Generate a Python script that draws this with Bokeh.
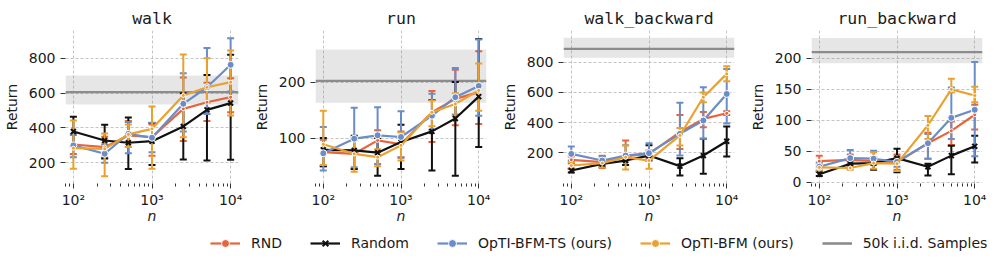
from bokeh.plotting import figure
from bokeh.layouts import row, column
from bokeh.models import (ColumnDataSource, Whisker, TeeHead, BoxAnnotation, Span,
                          Range1d, FixedTicker, Legend, LegendItem)
from bokeh.embed import file_html
from bokeh.resources import INLINE

# ---------------- data ----------------
n_values = [100, 250, 500, 1000, 2500, 5000, 10000]
x_major_ticks = [100, 1000, 10000]
x_tick_labels = {100: "10²", 1000: "10³", 10000: "10⁴"}
x_minor_ticks = [m * 10 ** e for e in (1, 2, 3, 4) for m in range(2, 10)]

tasks = ["walk", "run", "walk_backward", "run_backward"]
series_names = ["RND", "Random", "OpTI-BFM-TS (ours)", "OpTI-BFM (ours)"]
baseline_name = "50k i.i.d. Samples"

# walk
walk_rnd_mean = [305, 290, 357, 347, 510, 548, 577]
walk_rnd_lo = [250, 230, 290, 240, 325, 440, 490]
walk_rnd_hi = [360, 350, 440, 420, 690, 660, 685]
walk_random_mean = [380, 328, 315, 324, 409, 504, 543]
walk_random_lo = [290, 225, 165, 188, 219, 213, 217]
walk_random_hi = [465, 418, 460, 428, 600, 705, 820]
walk_ts_mean = [300, 252, 366, 344, 539, 634, 763]
walk_ts_lo = [232, 200, 255, 260, 380, 480, 610]
walk_ts_hi = [365, 305, 435, 430, 715, 860, 916]
walk_bfm_mean = [284, 280, 363, 395, 587, 634, 663]
walk_bfm_lo = [166, 123, 290, 166, 347, 545, 472]
walk_bfm_hi = [443, 368, 420, 523, 822, 801, 845]
walk_iid = [606, 535, 701]  # mean, lo, hi

# run
run_rnd_mean = [75, 72, 96, 89, 146, 170, 182]
run_rnd_lo = [50, 45, 75, 65, 93, 123, 125]
run_rnd_hi = [97, 97, 114, 112, 184, 222, 255]
run_random_mean = [79, 78, 74, 93, 112, 135, 174]
run_random_lo = [50, 45, 33, 45, 42, 33, 84]
run_random_hi = [100, 104, 100, 124, 168, 200, 277]
run_ts_mean = [73, 99, 105, 102, 140, 173, 193]
run_ts_lo = [42, 48, 54, 66, 115, 142, 140]
run_ts_hi = [120, 154, 155, 148, 179, 225, 276]
run_bfm_mean = [89, 72, 66, 87, 146, 161, 185]
run_bfm_lo = [52, 40, 50, 60, 121, 140, 149]
run_bfm_hi = [149, 100, 80, 110, 167, 180, 233]
run_iid = [202, 163, 258]

# walk_backward
wb_rnd_mean = [154, 138, 178, 193, 337, 425, 462]
wb_rnd_lo = [130, 100, 150, 165, 226, 370, 450]
wb_rnd_hi = [175, 180, 282, 215, 451, 470, 475]
wb_random_mean = [83, 127, 149, 182, 112, 182, 277]
wb_random_lo = [70, 110, 120, 150, 50, 61, 176]
wb_random_hi = [95, 145, 180, 250, 165, 293, 374]
wb_ts_mean = [193, 149, 182, 198, 326, 414, 590]
wb_ts_lo = [150, 120, 155, 170, 182, 293, 395]
wb_ts_hi = [242, 175, 250, 264, 531, 634, 755]
wb_bfm_mean = [116, 132, 171, 149, 315, 568, 723]
wb_bfm_lo = [95, 105, 90, 94, 249, 535, 674]
wb_bfm_hi = [140, 160, 249, 200, 365, 600, 773]
wb_iid = [888, 830, 962]

# run_backward
rb_rnd_mean = [34, 36, 34, 32, 63, 83, 109]
rb_rnd_lo = [25, 30, 28, 20, 38, 60, 85]
rb_rnd_hi = [43, 45, 40, 45, 80, 98, 125]
rb_random_mean = [13, 30, 31, 39, 25, 43, 58]
rb_random_lo = [10, 25, 20, 16, 11, 13, 32]
rb_random_hi = [17, 35, 40, 54, 30, 59, 75]
rb_ts_mean = [25, 39, 38, 33, 63, 104, 117]
rb_ts_lo = [18, 28, 30, 25, 38, 70, 42]
rb_ts_hi = [32, 52, 51, 40, 78, 153, 194]
rb_bfm_mean = [24, 23, 31, 30, 92, 150, 140]
rb_bfm_lo = [20, 20, 22, 18, 70, 145, 129]
rb_bfm_hi = [29, 26, 48, 42, 107, 167, 154]
rb_iid = [210, 192, 233]

y_ticks = {
    "walk": [200, 400, 600, 800],
    "run": [100, 200],
    "walk_backward": [200, 400, 600, 800],
    "run_backward": [0, 50, 100, 150, 200],
}

task_data = {
    "walk": ([(walk_rnd_mean, walk_rnd_lo, walk_rnd_hi),
              (walk_random_mean, walk_random_lo, walk_random_hi),
              (walk_ts_mean, walk_ts_lo, walk_ts_hi),
              (walk_bfm_mean, walk_bfm_lo, walk_bfm_hi)], walk_iid),
    "run": ([(run_rnd_mean, run_rnd_lo, run_rnd_hi),
             (run_random_mean, run_random_lo, run_random_hi),
             (run_ts_mean, run_ts_lo, run_ts_hi),
             (run_bfm_mean, run_bfm_lo, run_bfm_hi)], run_iid),
    "walk_backward": ([(wb_rnd_mean, wb_rnd_lo, wb_rnd_hi),
                       (wb_random_mean, wb_random_lo, wb_random_hi),
                       (wb_ts_mean, wb_ts_lo, wb_ts_hi),
                       (wb_bfm_mean, wb_bfm_lo, wb_bfm_hi)], wb_iid),
    "run_backward": ([(rb_rnd_mean, rb_rnd_lo, rb_rnd_hi),
                      (rb_random_mean, rb_random_lo, rb_random_hi),
                      (rb_ts_mean, rb_ts_lo, rb_ts_hi),
                      (rb_bfm_mean, rb_bfm_lo, rb_bfm_hi)], rb_iid),
}

# ---------------- style ----------------
colors = ["#E8643C", "#111111", "#6A8DC8", "#E9A12F"]
markers = ["circle", "x", "circle", "circle"]
marker_sizes = [4, 7, 7, 4]
iid_color = "#8C8C8C"
FONT = "DejaVu Sans"
MONO = "DejaVu Sans Mono"
TEXT = "#1a1a1a"

y_ranges = {
    "walk": (81, 960),
    "run": (19, 292),
    "walk_backward": (-3, 1010),
    "run_backward": (-2, 245),
}
# (fig width, left border, right border) -> frame width 173 each
geom = [(250, 65, 12), (248, 63, 12), (248, 63, 12), (250, 63, 14)]
TOP = 30
FRAME_H = 153
BOTTOM = 48
FIG_H = TOP + FRAME_H + BOTTOM


def make_panel(task, w, bl, br):
    p = figure(width=w, height=FIG_H, x_axis_type="log",
               x_range=Range1d(79.4, 12589),
               y_range=Range1d(*y_ranges[task]),
               output_backend="svg", toolbar_location=None,
               min_border_left=bl, min_border_right=br,
               min_border_top=TOP, min_border_bottom=BOTTOM)
    p.outline_line_color = None
    p.background_fill_color = "white"
    p.title.text = task
    p.title.text_font = MONO
    p.title.text_font_size = "16.5px"
    p.title.text_font_style = "normal"
    p.title.align = "center"
    p.title.text_color = TEXT
    p.title.standoff = 5

    p.xaxis.ticker = FixedTicker(ticks=x_major_ticks, minor_ticks=x_minor_ticks)
    p.xaxis.major_label_overrides = x_tick_labels
    p.yaxis.ticker = FixedTicker(ticks=y_ticks[task])
    for ax in (p.xaxis, p.yaxis):
        ax.axis_line_color = None
        ax.major_tick_line_color = "#333333"
        ax.minor_tick_line_color = "#333333"
        ax.major_tick_out = 5
        ax.major_tick_in = 0
        ax.minor_tick_out = 3
        ax.minor_tick_in = 0
        ax.major_label_text_font = FONT
        ax.major_label_text_font_size = "14px"
        ax.major_label_text_color = TEXT
        ax.axis_label_text_font = FONT
        ax.axis_label_text_font_size = "14px"
        ax.axis_label_text_color = TEXT
    p.yaxis.minor_tick_line_color = None
    p.xaxis.major_label_standoff = 3
    p.yaxis.major_label_standoff = 5
    p.xaxis.axis_label = "n"
    p.xaxis.axis_label_text_font_style = "italic"
    p.xaxis.axis_label_standoff = -3
    p.yaxis.axis_label = "Return"
    p.yaxis.axis_label_text_font_style = "normal"
    p.yaxis.axis_label_standoff = 6
    for g in (p.xgrid, p.ygrid):
        g.grid_line_color = "#b5b5b5"
        g.grid_line_dash = "3 2"
        g.grid_line_width = 0.8

    series, iid = task_data[task]
    iid_mean, iid_lo, iid_hi = iid
    p.add_layout(BoxAnnotation(bottom=iid_lo, top=iid_hi, fill_color="#808080",
                               fill_alpha=0.2, line_color=None, level="underlay"))
    p.add_layout(Span(location=iid_mean, dimension="width", line_color=iid_color,
                      line_width=2.2, level="underlay"))

    for (mean, lo, hi), c, mk, ms in zip(series, colors, markers, marker_sizes):
        src = ColumnDataSource(dict(x=n_values, y=mean, lo=lo, hi=hi))
        p.line("x", "y", source=src, line_color=c, line_width=2.2)
        p.add_layout(Whisker(base="x", lower="lo", upper="hi", source=src,
                             dimension="height", line_color=c, line_width=2,
                             upper_head=TeeHead(size=7, line_color=c, line_width=2),
                             lower_head=TeeHead(size=7, line_color=c, line_width=2)))
        if mk == "x":
            p.scatter("x", "y", source=src, marker="x", size=ms,
                      line_color=c, line_width=2)
        else:
            p.scatter("x", "y", source=src, marker=mk, size=ms,
                      fill_color=c, line_color="white", line_width=1)
    return p


panels = [make_panel(t, *g) for t, g in zip(tasks, geom)]

# ---------------- legend ----------------
# legend-only figure: it re-uses the walk series, which fall outside its (0, 1) ranges
lf = figure(width=996, height=30, x_range=Range1d(0, 1), y_range=Range1d(0, 1),
            output_backend="svg", toolbar_location=None,
            min_border=0, min_border_left=0, min_border_right=0,
            min_border_top=0, min_border_bottom=0)
lf.outline_line_color = None
lf.axis.visible = False
lf.grid.visible = False
items = []
walk_series, walk_band = task_data["walk"]
for name, (mean, lo, hi), c, mk, ms in zip(series_names, walk_series, colors,
                                           markers, marker_sizes):
    src = ColumnDataSource(dict(x=n_values, y=mean))
    rl = lf.line("x", "y", source=src, line_color=c, line_width=2.2)
    if mk == "x":
        rm = lf.scatter("x", "y", source=src, marker="x", size=ms,
                        line_color=c, line_width=2)
    else:
        rm = lf.scatter("x", "y", source=src, marker=mk, size=ms,
                        fill_color=c, line_color="white", line_width=1)
    items.append(LegendItem(label=name, renderers=[rl, rm]))
band_src = ColumnDataSource(dict(x=[n_values[0], n_values[-1]],
                                 y=[walk_band[0], walk_band[0]]))
rg = lf.line("x", "y", source=band_src, line_color=iid_color, line_width=2.6)
items.append(LegendItem(label=baseline_name, renderers=[rg]))
legend = Legend(items=items, orientation="horizontal", location=(210, 8),
                glyph_width=30, glyph_height=20, label_standoff=11, spacing=28,
                padding=0, margin=0, border_line_color=None,
                background_fill_alpha=0, label_text_font=FONT,
                label_text_font_size="14px", label_text_color=TEXT)
lf.add_layout(legend)

layout = column(row(*panels, spacing=0), lf, spacing=0)
open("out.html", "w").write(file_html(layout, INLINE))
